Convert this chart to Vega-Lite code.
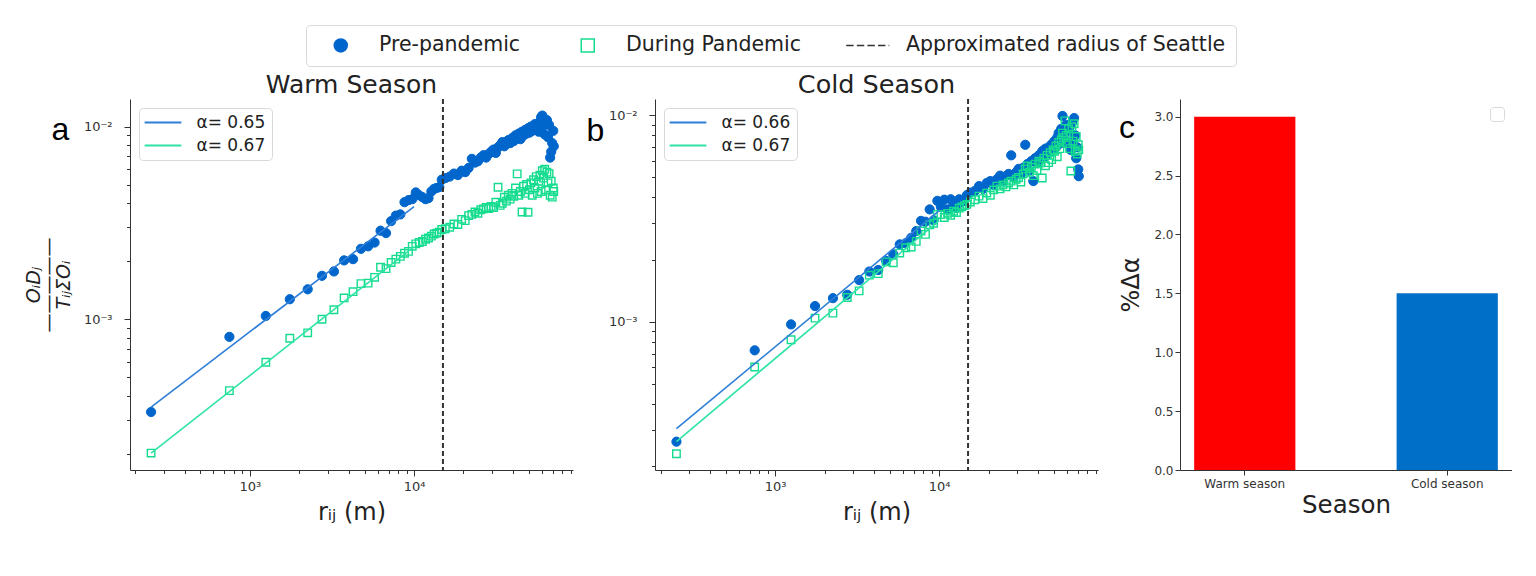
{
  "$schema": "https://vega.github.io/schema/vega-lite/v6.json",
  "padding": {"left": 24, "top": 24, "right": 0, "bottom": 0},
  "spacing": 82,
  "bounds": "flush",
  "config": {
    "font": "DejaVu Sans",
    "view": {"stroke": null},
    "axis": {"grid": false, "domainColor": "#333333", "tickColor": "#333333", "labelColor": "#333333", "labelFontSize": 13, "titleColor": "#222222", "titleFontWeight": "normal", "labelOverlap": false, "labelFlush": false},
    "legend": {"strokeColor": "#d9d9d9", "cornerRadius": 4, "fillColor": "#ffffff", "labelColor": "#222222", "labelFont": "DejaVu Sans"}
  },
  "resolve": {
    "scale": {"color": "independent", "shape": "shared", "fill": "shared", "stroke": "shared"},
    "legend": {"color": "independent"}
  },
  "datasets": {
    "aPre": [
      {"r": 250, "v": 0.00033}, {"r": 750, "v": 0.00081}, {"r": 1250, "v": 0.00104}, {"r": 1750, "v": 0.00127},
      {"r": 2250, "v": 0.00143}, {"r": 2750, "v": 0.00168}, {"r": 3250, "v": 0.00177}, {"r": 3750, "v": 0.00202},
      {"r": 4250, "v": 0.00205}, {"r": 4750, "v": 0.00232}, {"r": 5250, "v": 0.00239}, {"r": 5750, "v": 0.0025},
      {"r": 6250, "v": 0.00288}, {"r": 6750, "v": 0.0028}, {"r": 7250, "v": 0.00323}, {"r": 7750, "v": 0.00345},
      {"r": 8250, "v": 0.0035}, {"r": 8750, "v": 0.00405}, {"r": 9250, "v": 0.00415}, {"r": 9750, "v": 0.0042},
      {"r": 10250, "v": 0.00455}, {"r": 10750, "v": 0.0044}, {"r": 11250, "v": 0.0043}, {"r": 11750, "v": 0.0042},
      {"r": 12250, "v": 0.00425}, {"r": 12750, "v": 0.0046}, {"r": 13250, "v": 0.00475}, {"r": 13750, "v": 0.0048},
      {"r": 14250, "v": 0.00485}, {"r": 14750, "v": 0.0053}, {"r": 15500, "v": 0.0054}, {"r": 16500, "v": 0.0055},
      {"r": 17500, "v": 0.0057}, {"r": 18500, "v": 0.0056}, {"r": 19500, "v": 0.0059}, {"r": 20500, "v": 0.0058},
      {"r": 21500, "v": 0.0061}, {"r": 22500, "v": 0.0068}, {"r": 23500, "v": 0.0065}, {"r": 24500, "v": 0.0066},
      {"r": 25500, "v": 0.0069}, {"r": 26500, "v": 0.0071}, {"r": 27500, "v": 0.0069}, {"r": 28500, "v": 0.0072},
      {"r": 29500, "v": 0.0074}, {"r": 30500, "v": 0.0076}, {"r": 31500, "v": 0.0073}, {"r": 32500, "v": 0.0078},
      {"r": 33500, "v": 0.008}, {"r": 34500, "v": 0.0083}, {"r": 35500, "v": 0.0079}, {"r": 36500, "v": 0.0081},
      {"r": 37500, "v": 0.0085}, {"r": 38500, "v": 0.0082}, {"r": 39500, "v": 0.0087}, {"r": 40500, "v": 0.0084},
      {"r": 41500, "v": 0.009}, {"r": 42500, "v": 0.0088}, {"r": 43500, "v": 0.0092}, {"r": 44500, "v": 0.0086},
      {"r": 45500, "v": 0.0094}, {"r": 46500, "v": 0.009}, {"r": 47500, "v": 0.0096}, {"r": 48500, "v": 0.0092},
      {"r": 49500, "v": 0.0098}, {"r": 50500, "v": 0.0093}, {"r": 51500, "v": 0.01}, {"r": 52500, "v": 0.0095},
      {"r": 53500, "v": 0.0099}, {"r": 54500, "v": 0.0103}, {"r": 55500, "v": 0.0096}, {"r": 56500, "v": 0.0102},
      {"r": 57500, "v": 0.0094}, {"r": 58500, "v": 0.0106}, {"r": 59500, "v": 0.0112}, {"r": 60500, "v": 0.0114},
      {"r": 61500, "v": 0.0101}, {"r": 62500, "v": 0.0091}, {"r": 63500, "v": 0.0105}, {"r": 64500, "v": 0.0108},
      {"r": 65500, "v": 0.0088}, {"r": 66500, "v": 0.0102}, {"r": 67500, "v": 0.0069}, {"r": 68500, "v": 0.0074},
      {"r": 69500, "v": 0.0082}, {"r": 70500, "v": 0.0095}, {"r": 71000, "v": 0.0079}
    ],
    "aDur": [
      {"r": 250, "v": 0.000202}, {"r": 750, "v": 0.000426}, {"r": 1250, "v": 0.000598}, {"r": 1750, "v": 0.000797},
      {"r": 2250, "v": 0.00085}, {"r": 2750, "v": 0.001}, {"r": 3250, "v": 0.00112}, {"r": 3750, "v": 0.00129},
      {"r": 4250, "v": 0.00139}, {"r": 4750, "v": 0.00153}, {"r": 5250, "v": 0.00154}, {"r": 5750, "v": 0.00165},
      {"r": 6250, "v": 0.00186}, {"r": 6750, "v": 0.00183}, {"r": 7250, "v": 0.00197}, {"r": 7750, "v": 0.00205},
      {"r": 8250, "v": 0.00212}, {"r": 8750, "v": 0.0022}, {"r": 9250, "v": 0.00225}, {"r": 9750, "v": 0.00239},
      {"r": 10250, "v": 0.00246}, {"r": 10750, "v": 0.0025}, {"r": 11250, "v": 0.00253}, {"r": 11750, "v": 0.0026},
      {"r": 12250, "v": 0.00264}, {"r": 12750, "v": 0.0027}, {"r": 13250, "v": 0.00277}, {"r": 13750, "v": 0.0028},
      {"r": 14250, "v": 0.00283}, {"r": 14750, "v": 0.00292}, {"r": 15500, "v": 0.00295}, {"r": 16500, "v": 0.003},
      {"r": 17500, "v": 0.00312}, {"r": 18500, "v": 0.0031}, {"r": 19500, "v": 0.0033}, {"r": 20500, "v": 0.00325},
      {"r": 21500, "v": 0.00345}, {"r": 22500, "v": 0.0035}, {"r": 23500, "v": 0.0036}, {"r": 24500, "v": 0.00355},
      {"r": 25500, "v": 0.0037}, {"r": 26500, "v": 0.00374}, {"r": 27500, "v": 0.0038}, {"r": 28500, "v": 0.00375},
      {"r": 29500, "v": 0.00385}, {"r": 30500, "v": 0.0038}, {"r": 31500, "v": 0.00405}, {"r": 32500, "v": 0.00484},
      {"r": 33500, "v": 0.0039}, {"r": 34500, "v": 0.004}, {"r": 35500, "v": 0.0043}, {"r": 36500, "v": 0.0041},
      {"r": 37500, "v": 0.0044}, {"r": 38500, "v": 0.0042}, {"r": 39500, "v": 0.0045}, {"r": 40500, "v": 0.00435},
      {"r": 41500, "v": 0.0048}, {"r": 42500, "v": 0.00568}, {"r": 43500, "v": 0.0044}, {"r": 44500, "v": 0.0046},
      {"r": 45500, "v": 0.0036}, {"r": 46500, "v": 0.0049}, {"r": 47500, "v": 0.0045}, {"r": 48500, "v": 0.005},
      {"r": 49500, "v": 0.00359}, {"r": 50500, "v": 0.0047}, {"r": 51500, "v": 0.0051}, {"r": 52500, "v": 0.0044},
      {"r": 53500, "v": 0.0053}, {"r": 54500, "v": 0.0048}, {"r": 55500, "v": 0.0055}, {"r": 56500, "v": 0.0045},
      {"r": 57500, "v": 0.0052}, {"r": 58500, "v": 0.0056}, {"r": 59500, "v": 0.0046}, {"r": 60500, "v": 0.0059},
      {"r": 61500, "v": 0.0054}, {"r": 62500, "v": 0.006}, {"r": 63500, "v": 0.0047}, {"r": 64500, "v": 0.0058},
      {"r": 65500, "v": 0.0051}, {"r": 66500, "v": 0.0057}, {"r": 67500, "v": 0.0044}, {"r": 68500, "v": 0.0052},
      {"r": 69500, "v": 0.0043}, {"r": 70500, "v": 0.0048}, {"r": 71000, "v": 0.0046}
    ],
    "bPre": [
      {"r": 250, "v": 0.000262}, {"r": 750, "v": 0.000726}, {"r": 1250, "v": 0.00097}, {"r": 1750, "v": 0.00119},
      {"r": 2250, "v": 0.0013}, {"r": 2750, "v": 0.00135}, {"r": 3250, "v": 0.00159}, {"r": 3750, "v": 0.00175},
      {"r": 4250, "v": 0.00178}, {"r": 4750, "v": 0.00197}, {"r": 5250, "v": 0.00212}, {"r": 5750, "v": 0.00237},
      {"r": 6250, "v": 0.0024}, {"r": 6750, "v": 0.00255}, {"r": 7250, "v": 0.00275}, {"r": 7750, "v": 0.00308},
      {"r": 8250, "v": 0.00305}, {"r": 8750, "v": 0.0035}, {"r": 9250, "v": 0.0031}, {"r": 9750, "v": 0.00385},
      {"r": 10250, "v": 0.0036}, {"r": 10750, "v": 0.0039}, {"r": 11250, "v": 0.0035}, {"r": 11750, "v": 0.00392},
      {"r": 12250, "v": 0.0037}, {"r": 12750, "v": 0.00356}, {"r": 13250, "v": 0.00392}, {"r": 13750, "v": 0.0038},
      {"r": 14250, "v": 0.0039}, {"r": 14750, "v": 0.0041}, {"r": 15500, "v": 0.00422}, {"r": 16500, "v": 0.0043},
      {"r": 17500, "v": 0.00454}, {"r": 18500, "v": 0.0044}, {"r": 19500, "v": 0.0047}, {"r": 20500, "v": 0.0048},
      {"r": 21500, "v": 0.0046}, {"r": 22500, "v": 0.0049}, {"r": 23500, "v": 0.0051}, {"r": 24500, "v": 0.0048},
      {"r": 25500, "v": 0.00507}, {"r": 26500, "v": 0.0052}, {"r": 27500, "v": 0.0064}, {"r": 28500, "v": 0.005},
      {"r": 29500, "v": 0.0053}, {"r": 30500, "v": 0.0055}, {"r": 31500, "v": 0.0052}, {"r": 32500, "v": 0.00557},
      {"r": 33500, "v": 0.0072}, {"r": 34500, "v": 0.0058}, {"r": 35500, "v": 0.0054}, {"r": 36500, "v": 0.006},
      {"r": 37500, "v": 0.0048}, {"r": 38500, "v": 0.0062}, {"r": 39500, "v": 0.0059}, {"r": 40500, "v": 0.0064},
      {"r": 41500, "v": 0.0061}, {"r": 42500, "v": 0.0067}, {"r": 43500, "v": 0.0063}, {"r": 44500, "v": 0.0069},
      {"r": 45500, "v": 0.0065}, {"r": 46500, "v": 0.007}, {"r": 47500, "v": 0.0066}, {"r": 48500, "v": 0.00724},
      {"r": 49500, "v": 0.0068}, {"r": 50500, "v": 0.0075}, {"r": 51500, "v": 0.007}, {"r": 52500, "v": 0.0078},
      {"r": 53500, "v": 0.0082}, {"r": 54500, "v": 0.0073}, {"r": 55500, "v": 0.0086}, {"r": 56500, "v": 0.00993},
      {"r": 57500, "v": 0.0081}, {"r": 58500, "v": 0.0076}, {"r": 59500, "v": 0.009}, {"r": 60500, "v": 0.0084},
      {"r": 61500, "v": 0.0072}, {"r": 62500, "v": 0.0088}, {"r": 63500, "v": 0.0068}, {"r": 64500, "v": 0.0092},
      {"r": 65500, "v": 0.0075}, {"r": 66500, "v": 0.0097}, {"r": 67500, "v": 0.008}, {"r": 68500, "v": 0.0062},
      {"r": 69500, "v": 0.007}, {"r": 70500, "v": 0.00547}, {"r": 71000, "v": 0.00507}
    ],
    "bDur": [
      {"r": 250, "v": 0.000229}, {"r": 750, "v": 0.000603}, {"r": 1250, "v": 0.000817}, {"r": 1750, "v": 0.00104},
      {"r": 2250, "v": 0.0011}, {"r": 2750, "v": 0.00131}, {"r": 3250, "v": 0.00141}, {"r": 3750, "v": 0.00168},
      {"r": 4250, "v": 0.00171}, {"r": 4750, "v": 0.00195}, {"r": 5250, "v": 0.00193}, {"r": 5750, "v": 0.00215},
      {"r": 6250, "v": 0.00228}, {"r": 6750, "v": 0.0023}, {"r": 7250, "v": 0.00245}, {"r": 7750, "v": 0.00275},
      {"r": 8250, "v": 0.00265}, {"r": 8750, "v": 0.00295}, {"r": 9250, "v": 0.003}, {"r": 9750, "v": 0.00331},
      {"r": 10250, "v": 0.0033}, {"r": 10750, "v": 0.0032}, {"r": 11250, "v": 0.00335}, {"r": 11750, "v": 0.00328},
      {"r": 12250, "v": 0.00343}, {"r": 12750, "v": 0.00338}, {"r": 13250, "v": 0.00355}, {"r": 13750, "v": 0.0036},
      {"r": 14250, "v": 0.00365}, {"r": 14750, "v": 0.0037}, {"r": 15500, "v": 0.0038}, {"r": 16500, "v": 0.0039},
      {"r": 17500, "v": 0.00406}, {"r": 18500, "v": 0.00395}, {"r": 19500, "v": 0.0042}, {"r": 20500, "v": 0.0041},
      {"r": 21500, "v": 0.00435}, {"r": 22500, "v": 0.00454}, {"r": 23500, "v": 0.0044}, {"r": 24500, "v": 0.0046},
      {"r": 25500, "v": 0.0045}, {"r": 26500, "v": 0.0047}, {"r": 27500, "v": 0.0048}, {"r": 28500, "v": 0.0046},
      {"r": 29500, "v": 0.0049}, {"r": 30500, "v": 0.005}, {"r": 31500, "v": 0.00475}, {"r": 32500, "v": 0.0052},
      {"r": 33500, "v": 0.0055}, {"r": 34500, "v": 0.00568}, {"r": 35500, "v": 0.0053}, {"r": 36500, "v": 0.0056},
      {"r": 37500, "v": 0.0051}, {"r": 38500, "v": 0.0058}, {"r": 39500, "v": 0.0054}, {"r": 40500, "v": 0.006},
      {"r": 41500, "v": 0.00589}, {"r": 42500, "v": 0.00497}, {"r": 43500, "v": 0.0062}, {"r": 44500, "v": 0.0057},
      {"r": 45500, "v": 0.0064}, {"r": 46500, "v": 0.0059}, {"r": 47500, "v": 0.0066}, {"r": 48500, "v": 0.0061},
      {"r": 49500, "v": 0.0068}, {"r": 50500, "v": 0.0067}, {"r": 51500, "v": 0.0071}, {"r": 52500, "v": 0.0063},
      {"r": 53500, "v": 0.0074}, {"r": 54500, "v": 0.0069}, {"r": 55500, "v": 0.0076}, {"r": 56500, "v": 0.0082},
      {"r": 57500, "v": 0.0078}, {"r": 58500, "v": 0.0094}, {"r": 59500, "v": 0.008}, {"r": 60500, "v": 0.0073},
      {"r": 61500, "v": 0.0086}, {"r": 62500, "v": 0.0069}, {"r": 63500, "v": 0.00537}, {"r": 64500, "v": 0.0088},
      {"r": 65500, "v": 0.0075}, {"r": 66500, "v": 0.0091}, {"r": 67500, "v": 0.0067}, {"r": 68500, "v": 0.0079},
      {"r": 69500, "v": 0.0065}, {"r": 70500, "v": 0.0072}, {"r": 71000, "v": 0.0068}
    ],
    "aFit": [
      {"r": 250, "v": 0.00035, "fit": "α= 0.65"}, {"r": 10000, "v": 0.00384, "fit": "α= 0.65"},
      {"r": 250, "v": 0.000202, "fit": "α= 0.67"}, {"r": 10000, "v": 0.00238, "fit": "α= 0.67"}
    ],
    "bFit": [
      {"r": 250, "v": 0.000303, "fit": "α= 0.66"}, {"r": 10000, "v": 0.00345, "fit": "α= 0.66"},
      {"r": 250, "v": 0.000262, "fit": "α= 0.67"}, {"r": 10000, "v": 0.0031, "fit": "α= 0.67"}
    ],
    "radius": [{"r": 15000}],
    "bars": [{"season": "Warm season", "pct": 3.0}, {"season": "Cold season", "pct": 1.5}]
  },
  "hconcat": [
    {
      "width": 443,
      "height": 371,
      "title": {"text": "Warm Season", "fontSize": 25, "fontWeight": "normal", "color": "#222222", "offset": 0},
      "resolve": {"axis": {"x": "independent", "y": "independent"}},
      "layer": [
        {
          "data": {"name": "aPre"},
          "mark": {"type": "point", "size": 85, "filled": true, "strokeWidth": 1, "opacity": 1},
          "encoding": {
            "x": {"field": "r", "type": "quantitative", "scale": {"type": "log", "domain": [186, 93000]},
              "axis": {"title": "rᵢⱼ (m)", "titleFontSize": 24, "titlePadding": 7, "labelPadding": 4,
                "values": [200, 300, 400, 500, 600, 700, 800, 900, 1000, 2000, 3000, 4000, 5000, 6000, 7000, 8000, 9000, 10000, 20000, 30000, 40000, 50000, 60000, 70000, 80000, 90000],
                "labelExpr": "datum.value == 1000 ? '10³' : datum.value == 10000 ? '10⁴' : ''",
                "tickSize": {"condition": {"test": "datum.value == 1000 || datum.value == 10000", "value": 6}, "value": 3.5}}},
            "y": {"field": "v", "type": "quantitative", "scale": {"type": "log", "domain": [0.000165, 0.0139]},
              "axis": {"title": ["OᵢDⱼ", "—————", "TᵢⱼΣOᵢ"], "titleFontSize": 19, "titleFontStyle": "italic", "titleLineHeight": 15, "titlePadding": 10, "labelPadding": 12,
                "values": [0.0002, 0.0003, 0.0004, 0.0005, 0.0006, 0.0007, 0.0008, 0.0009, 0.001, 0.002, 0.003, 0.004, 0.005, 0.006, 0.007, 0.008, 0.009, 0.01],
                "labelExpr": "datum.value == 0.01 ? '10⁻²' : datum.value == 0.001 ? '10⁻³' : ''",
                "tickSize": {"condition": {"test": "datum.value == 0.01 || datum.value == 0.001", "value": 6}, "value": 3.5}}},
            "shape": {"datum": "Pre-pandemic", "type": "nominal",
              "scale": {"domain": ["Pre-pandemic", "During Pandemic", "Approximated radius of Seattle"], "range": ["circle", "square", "M-3.31,0H-2.17M-1.68,0H-0.54M-0.05,0H1.09M1.58,0H2.72M3.21,0H3.31"]},
              "legend": {"title": null, "orient": "none", "legendX": 176, "legendY": -74, "direction": "horizontal", "columns": 3, "padding": 10,
                "symbolSize": 169, "symbolOffset": 14.5, "symbolStrokeWidth": 1.5, "labelOffset": 28, "columnPadding": 42, "labelFontSize": 20.5, "labelLimit": 500}},
            "fill": {"datum": "Pre-pandemic", "type": "nominal",
              "scale": {"domain": ["Pre-pandemic", "During Pandemic", "Approximated radius of Seattle"], "range": ["#0066cc", "transparent", "transparent"]}},
            "stroke": {"datum": "Pre-pandemic", "type": "nominal",
              "scale": {"domain": ["Pre-pandemic", "During Pandemic", "Approximated radius of Seattle"], "range": ["#0066cc", "#14dc8e", "#333333"]}}
          }
        },
        {
          "data": {"name": "aDur"},
          "mark": {"type": "point", "size": 56, "strokeWidth": 1.4, "opacity": 1},
          "encoding": {
            "x": {"field": "r", "type": "quantitative", "scale": {"type": "log", "domain": [186, 93000]}, "axis": null},
            "y": {"field": "v", "type": "quantitative", "scale": {"type": "log", "domain": [0.000165, 0.0139]}, "axis": null},
            "shape": {"datum": "During Pandemic", "type": "nominal"},
            "fill": {"datum": "During Pandemic", "type": "nominal"},
            "stroke": {"datum": "During Pandemic", "type": "nominal"}
          }
        },
        {
          "data": {"name": "aFit"},
          "mark": {"type": "line", "strokeWidth": 1.6},
          "encoding": {
            "x": {"field": "r", "type": "quantitative", "scale": {"type": "log", "domain": [186, 93000]}, "axis": null},
            "y": {"field": "v", "type": "quantitative", "scale": {"type": "log", "domain": [0.000165, 0.0139]}, "axis": null},
            "color": {"field": "fit", "type": "nominal", "scale": {"range": ["#2f7fd8", "#2fe3a5"]},
              "legend": {"title": null, "orient": "top-left", "offset": 9, "padding": 6, "symbolType": "M-3.67,0H3.67", "symbolSize": 100, "symbolOffset": 9.5, "symbolStrokeWidth": 2, "labelOffset": 25, "labelFontSize": 17, "rowPadding": 5}}
          }
        },
        {
          "data": {"name": "radius"},
          "mark": {"type": "rule", "color": "#333333", "strokeWidth": 2, "strokeDash": [5, 3]},
          "encoding": {
            "x": {"field": "r", "type": "quantitative", "scale": {"type": "log", "domain": [186, 93000]},
              "axis": {"orient": "top", "title": "a", "titleFont": "Liberation Sans", "titleFontSize": 32, "titleColor": "#000000", "titleX": -70, "titleY": 40, "titleAlign": "center", "titleBaseline": "alphabetic", "domain": false, "ticks": false, "labels": false}}
          }
        }
      ]
    },
    {
      "width": 443,
      "height": 371,
      "title": {"text": "Cold Season", "fontSize": 25.5, "fontWeight": "normal", "color": "#222222", "offset": 0},
      "resolve": {"axis": {"x": "independent", "y": "independent"}},
      "layer": [
        {
          "data": {"name": "bPre"},
          "mark": {"type": "point", "size": 85, "filled": true, "strokeWidth": 1, "opacity": 1},
          "encoding": {
            "x": {"field": "r", "type": "quantitative", "scale": {"type": "log", "domain": [185, 93000]},
              "axis": {"title": "rᵢⱼ (m)", "titleFontSize": 24, "titlePadding": 7, "labelPadding": 4,
                "values": [200, 300, 400, 500, 600, 700, 800, 900, 1000, 2000, 3000, 4000, 5000, 6000, 7000, 8000, 9000, 10000, 20000, 30000, 40000, 50000, 60000, 70000, 80000, 90000],
                "labelExpr": "datum.value == 1000 ? '10³' : datum.value == 10000 ? '10⁴' : ''",
                "tickSize": {"condition": {"test": "datum.value == 1000 || datum.value == 10000", "value": 6}, "value": 3.5}}},
            "y": {"field": "v", "type": "quantitative", "scale": {"type": "log", "domain": [0.000191, 0.012]},
              "axis": {"title": null, "labelPadding": 12,
                "values": [0.0002, 0.0003, 0.0004, 0.0005, 0.0006, 0.0007, 0.0008, 0.0009, 0.001, 0.002, 0.003, 0.004, 0.005, 0.006, 0.007, 0.008, 0.009, 0.01],
                "labelExpr": "datum.value == 0.01 ? '10⁻²' : datum.value == 0.001 ? '10⁻³' : ''",
                "tickSize": {"condition": {"test": "datum.value == 0.01 || datum.value == 0.001", "value": 6}, "value": 3.5}}},
            "shape": {"datum": "Pre-pandemic", "type": "nominal"},
            "fill": {"datum": "Pre-pandemic", "type": "nominal"},
            "stroke": {"datum": "Pre-pandemic", "type": "nominal"}
          }
        },
        {
          "data": {"name": "bDur"},
          "mark": {"type": "point", "size": 56, "strokeWidth": 1.4, "opacity": 1},
          "encoding": {
            "x": {"field": "r", "type": "quantitative", "scale": {"type": "log", "domain": [185, 93000]}, "axis": null},
            "y": {"field": "v", "type": "quantitative", "scale": {"type": "log", "domain": [0.000191, 0.012]}, "axis": null},
            "shape": {"datum": "During Pandemic", "type": "nominal"},
            "fill": {"datum": "During Pandemic", "type": "nominal"},
            "stroke": {"datum": "During Pandemic", "type": "nominal"}
          }
        },
        {
          "data": {"name": "bFit"},
          "mark": {"type": "line", "strokeWidth": 1.6},
          "encoding": {
            "x": {"field": "r", "type": "quantitative", "scale": {"type": "log", "domain": [185, 93000]}, "axis": null},
            "y": {"field": "v", "type": "quantitative", "scale": {"type": "log", "domain": [0.000191, 0.012]}, "axis": null},
            "color": {"field": "fit", "type": "nominal", "scale": {"range": ["#2f7fd8", "#2fe3a5"]},
              "legend": {"title": null, "orient": "top-left", "offset": 9, "padding": 6, "symbolType": "M-3.67,0H3.67", "symbolSize": 100, "symbolOffset": 9.5, "symbolStrokeWidth": 2, "labelOffset": 25, "labelFontSize": 17, "rowPadding": 5}}
          }
        },
        {
          "data": {"name": "radius"},
          "mark": {"type": "rule", "color": "#333333", "strokeWidth": 2, "strokeDash": [5, 3]},
          "encoding": {
            "x": {"field": "r", "type": "quantitative", "scale": {"type": "log", "domain": [185, 93000]},
              "axis": {"orient": "top", "title": "b", "titleFont": "Liberation Sans", "titleFontSize": 32, "titleColor": "#000000", "titleX": -60, "titleY": 41, "titleAlign": "center", "titleBaseline": "alphabetic", "domain": false, "ticks": false, "labels": false}}
          }
        }
      ]
    },
    {
      "width": 332,
      "height": 371,
      "title": {"text": "c", "anchor": "start", "frame": "group", "offset": 0, "dx": -61, "dy": 71, "baseline": "alphabetic", "font": "Liberation Sans", "fontSize": 32, "fontWeight": "normal", "color": "#000000"},
      "data": {"name": "bars"},
      "mark": {"type": "bar"},
      "encoding": {
        "x": {"field": "season", "type": "nominal", "sort": null, "scale": {"paddingInner": 0.5, "paddingOuter": 0.07},
          "axis": {"title": "Season", "labelAngle": 0, "titleFontSize": 24.5, "labelFontSize": 12, "tickSize": 5, "labelPadding": 3, "titlePadding": 4}},
        "y": {"field": "pct", "type": "quantitative", "scale": {"domain": [0, 3.15], "nice": false},
          "axis": {"title": "%Δα", "values": [0, 0.5, 1, 1.5, 2, 2.5, 3], "format": ".1f", "titleFontSize": 24, "labelFontSize": 12, "tickSize": 5, "titlePadding": 10}},
        "color": {"field": "season", "type": "nominal", "scale": {"domain": ["Warm season", "Cold season"], "range": ["#ff0000", "#006fc8"]},
          "legend": {"values": [], "title": null, "orient": "top-right", "offset": 8, "padding": 7, "cornerRadius": 3}}
      }
    }
  ]
}
